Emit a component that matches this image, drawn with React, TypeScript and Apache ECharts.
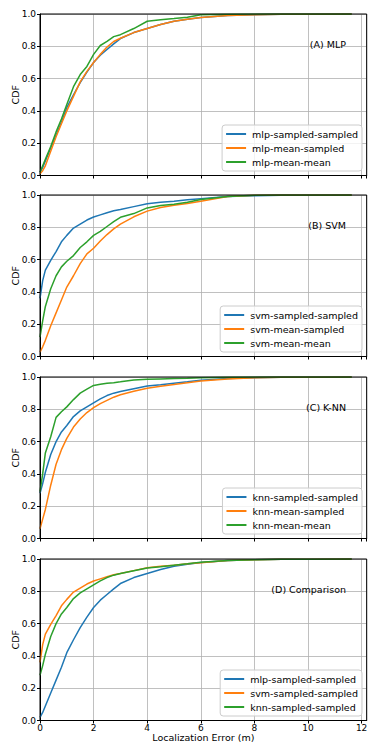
import React, { useEffect, useRef } from "react";
import * as echarts from "echarts";

// Localization error grid (m)
const X = [0, 0.1, 0.2, 0.4, 0.6, 0.8, 1.0, 1.25, 1.5, 1.75, 2.0, 2.25, 2.5, 2.75, 3.0, 3.5, 4.0, 4.5, 5.0, 5.5, 6.0, 7.0, 8.0, 9.0, 10.0, 11.63];

// CDF values
const mlpSampledSampled = [0.02, 0.05, 0.09, 0.17, 0.25, 0.33, 0.42, 0.5, 0.575, 0.64, 0.7, 0.745, 0.78, 0.815, 0.848, 0.885, 0.91, 0.935, 0.955, 0.967, 0.978, 0.99, 0.996, 0.998, 0.999, 1.0];
const mlpMeanSampled = [0.01, 0.03, 0.06, 0.15, 0.24, 0.32, 0.4, 0.49, 0.58, 0.645, 0.7, 0.75, 0.795, 0.83, 0.85, 0.885, 0.91, 0.935, 0.955, 0.968, 0.978, 0.99, 0.996, 0.998, 0.999, 1.0];
const mlpMeanMean = [0.02, 0.06, 0.1, 0.18, 0.27, 0.35, 0.44, 0.55, 0.625, 0.675, 0.75, 0.805, 0.83, 0.86, 0.872, 0.91, 0.955, 0.965, 0.972, 0.98, 0.995, 0.998, 1.0, 1.0, 1.0, 1.0];

const svmSampledSampled = [0.36, 0.47, 0.535, 0.595, 0.65, 0.71, 0.75, 0.795, 0.82, 0.845, 0.864, 0.877, 0.89, 0.902, 0.91, 0.928, 0.946, 0.955, 0.962, 0.97, 0.977, 0.99, 0.996, 0.998, 0.999, 1.0];
const svmMeanSampled = [0.027, 0.06, 0.1, 0.19, 0.27, 0.35, 0.43, 0.5, 0.575, 0.635, 0.67, 0.715, 0.755, 0.79, 0.82, 0.865, 0.9, 0.922, 0.937, 0.948, 0.962, 0.99, 0.998, 1.0, 1.0, 1.0];
const svmMeanMean = [0.12, 0.22, 0.31, 0.42, 0.5, 0.555, 0.59, 0.625, 0.675, 0.71, 0.75, 0.775, 0.805, 0.835, 0.862, 0.885, 0.92, 0.935, 0.943, 0.955, 0.972, 0.99, 0.998, 1.0, 1.0, 1.0];

const knnSampledSampled = [0.28, 0.34, 0.41, 0.52, 0.6, 0.66, 0.7, 0.755, 0.79, 0.815, 0.84, 0.865, 0.885, 0.9, 0.91, 0.927, 0.944, 0.952, 0.962, 0.97, 0.98, 0.99, 0.996, 0.998, 0.999, 1.0];
const knnMeanSampled = [0.06, 0.12, 0.18, 0.33, 0.46, 0.55, 0.62, 0.69, 0.74, 0.78, 0.81, 0.835, 0.855, 0.875, 0.89, 0.912, 0.93, 0.942, 0.953, 0.965, 0.975, 0.988, 0.995, 0.998, 0.999, 1.0];
const knnMeanMean = [0.29, 0.4, 0.53, 0.63, 0.75, 0.785, 0.815, 0.86, 0.9, 0.925, 0.948, 0.955, 0.962, 0.965, 0.97, 0.982, 0.986, 0.988, 0.99, 0.992, 0.995, 0.999, 1.0, 1.0, 1.0, 1.0];

const X_TICKS_MAX = 12;
const Y_TICKS = [0, 0.2, 0.4, 0.6, 0.8, 1.0];

const COLORS = ["#1f77b4", "#ff7f0e", "#2ca02c"];

const PANELS = [
  { key: "A", label: "(A) MLP", names: ["mlp-sampled-sampled", "mlp-mean-sampled", "mlp-mean-mean"], values: [mlpSampledSampled, mlpMeanSampled, mlpMeanMean] },
  { key: "B", label: "(B) SVM", names: ["svm-sampled-sampled", "svm-mean-sampled", "svm-mean-mean"], values: [svmSampledSampled, svmMeanSampled, svmMeanMean] },
  { key: "C", label: "(C) K-NN", names: ["knn-sampled-sampled", "knn-mean-sampled", "knn-mean-mean"], values: [knnSampledSampled, knnMeanSampled, knnMeanMean] },
  { key: "D", label: "(D) Comparison", names: ["mlp-sampled-sampled", "svm-sampled-sampled", "knn-sampled-sampled"], values: [mlpSampledSampled, svmSampledSampled, knnSampledSampled] },
];

const FONT = "DejaVu Sans";
const LEFT = 40;
const WIDTH = 326.7;
const TOPS = [14, 195, 377, 559];
const HEIGHT = 161.5;

export default function App() {
  const ref = useRef<HTMLDivElement>(null);

  useEffect(() => {
    if (!ref.current) return;
    const chart = echarts.init(ref.current, undefined, { renderer: "svg" });

    const grid = PANELS.map((_, i) => ({
      left: LEFT,
      width: WIDTH,
      top: TOPS[i],
      height: HEIGHT,
      containLabel: false,
      outerBoundsMode: "none",
    }));

    const xAxis = PANELS.map((_, i) => ({
      type: "value",
      gridIndex: i,
      min: 0,
      max: 12.19,
      interval: 2,
      name: i === 3 ? "Localization Error (m)" : "",
      nameLocation: "middle",
      nameGap: 12,
      nameMoveOverlap: false,
      nameTextStyle: { fontFamily: FONT, fontSize: 9.5, color: "#000", verticalAlign: "top" },
      axisLine: { show: true, onZero: false, lineStyle: { color: "#000", width: 1 } },
      axisTick: { show: true, length: 3, lineStyle: { color: "#000" } },
      axisLabel: {
        show: i === 3,
        showMaxLabel: false,
        margin: 3,
        color: "#000",
        fontFamily: FONT,
        fontSize: 9,
        formatter: (v: number) => (v <= X_TICKS_MAX && Math.abs(v % 2) < 1e-9 ? String(v) : ""),
      },
      splitLine: { show: true, lineStyle: { color: "#b0b0b0", width: 0.8 } },
    }));

    const yAxis = PANELS.map((_, i) => ({
      type: "value",
      gridIndex: i,
      min: Y_TICKS[0],
      max: Y_TICKS[Y_TICKS.length - 1],
      interval: 0.2,
      name: "CDF",
      nameLocation: "middle",
      nameGap: 20,
      nameMoveOverlap: false,
      nameRotate: 90,
      nameTextStyle: { fontFamily: FONT, fontSize: 9.5, color: "#000" },
      axisLine: { show: true, lineStyle: { color: "#000", width: 1 } },
      axisTick: { show: true, length: 3, lineStyle: { color: "#000" } },
      axisLabel: {
        margin: 4,
        color: "#000",
        fontFamily: FONT,
        fontSize: 9,
        formatter: (v: number) => v.toFixed(1),
      },
      splitLine: { show: true, lineStyle: { color: "#b0b0b0", width: 0.8 } },
    }));

    const series: any[] = [];
    PANELS.forEach((p, i) => {
      p.names.forEach((n, k) => {
        const ys = p.values[k];
        series.push({
          type: "line",
          name: `${p.key}|${n}`,
          xAxisIndex: i,
          yAxisIndex: i,
          symbol: "none",
          showSymbol: false,
          color: COLORS[k],
          itemStyle: { color: COLORS[k] },
          lineStyle: { color: COLORS[k], width: 1.5 },
          data: X.map((x, j) => [x, ys[j]]),
          z: 3 + k,
        });
      });
    });

    const legend = PANELS.map((p, i) => ({
      data: p.names.map((n) => `${p.key}|${n}`),
      formatter: (name: string) => name.split("|")[1],
      orient: "vertical",
      right: 14,
      top: TOPS[i] + 111,
      icon: "rect",
      itemWidth: 20,
      itemHeight: 2,
      itemGap: 2,
      padding: [3, 4, 3, 4],
      backgroundColor: "rgba(255,255,255,0.8)",
      borderColor: "#cccccc",
      borderWidth: 1,
      borderRadius: 3,
      selectedMode: false,
      textStyle: { fontFamily: FONT, fontSize: 9.5, color: "#000", lineHeight: 12, padding: [0, 0, 0, 1] },
    }));

    const graphic: any[] = [];
    PANELS.forEach((p, i) => {
      graphic.push({
        type: "text",
        x: 346,
        y: TOPS[i] + 30,
        z: 50,
        silent: true,
        style: {
          text: p.label,
          fill: "#000",
          fontFamily: FONT,
          fontSize: 9.5,
          align: "right",
          verticalAlign: "middle",
          textAlign: "right",
          textVerticalAlign: "middle",
        },
      });
      graphic.push({
        type: "rect",
        z: 60,
        silent: true,
        shape: { x: LEFT, y: TOPS[i], width: WIDTH, height: HEIGHT },
        style: { fill: "none", stroke: "#000", lineWidth: 1 },
      });
    });

    chart.setOption({
      animation: false,
      backgroundColor: "#fff",
      textStyle: { fontFamily: FONT },
      grid,
      xAxis,
      yAxis,
      legend,
      series,
      graphic,
    });

    return () => chart.dispose();
  }, []);

  return (
    <div
      ref={ref}
      style={{ position: "fixed", left: 0, top: 0, width: 376, height: 750 }}
    />
  );
}
